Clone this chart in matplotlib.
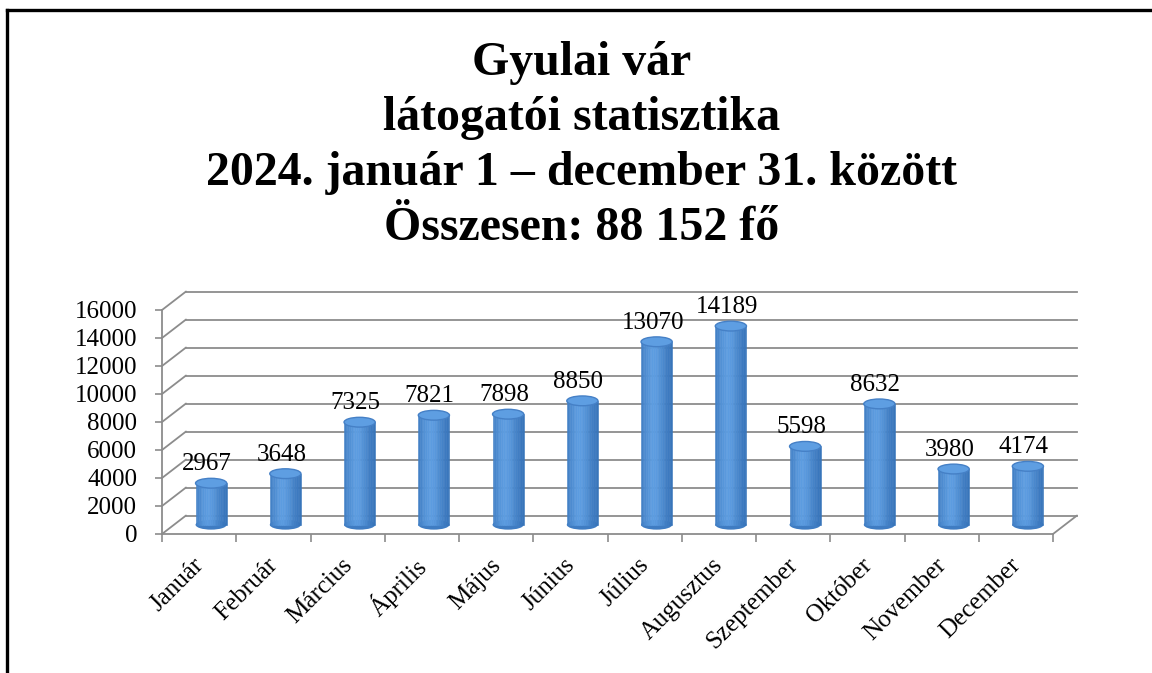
import numpy as np
import matplotlib.pyplot as plt
from matplotlib.patches import Ellipse
from matplotlib.lines import Line2D
from matplotlib.transforms import ScaledTranslation
from matplotlib.colors import to_rgb


months = ["Január", "Február", "Március", "Április", "Május", "Június",
          "Július", "Augusztus", "Szeptember", "Október", "November", "December"]
visitors = [2967, 3648, 7325, 7821, 7898, 8850, 13070, 14189, 5598, 8632, 3980, 4174]
y_ticks = [0, 2000, 4000, 6000, 8000, 10000, 12000, 14000, 16000]
title_lines = ["Gyulai vár", "látogatói statisztika",
               "2024. január 1 – december 31. között", "Összesen: 88 152 fő"]

SERIF = ["Liberation Serif", "DejaVu Serif"]
GRID = "#8c8c8c"
DEPTH = (0.24, 0.185)     # inches, back wall offset
BAR_W = 0.42
N_STRIPS = 18


def shade(t):
    # horizontal shading across the cylinder
    dark = np.array(to_rgb("#3470b6"))
    light = np.array(to_rgb("#5c9ce0"))
    k = np.exp(-((t - 0.4) / 0.38) ** 2)
    return tuple(dark + (light - dark) * k)


def main():
    fig = plt.figure(figsize=(11.52, 6.73), dpi=100)
    ax = fig.add_axes([162 / 1152, 139 / 673, 891 / 1152, 224 / 673])
    ax.set_xlim(-0.5, 11.5)
    ax.set_ylim(0, 16000)
    ax.set_autoscale_on(False)

    back = ax.transData + ScaledTranslation(DEPTH[0], DEPTH[1], fig.dpi_scale_trans)
    mid = ax.transData + ScaledTranslation(DEPTH[0] / 2, DEPTH[1] / 2, fig.dpi_scale_trans)

    # back wall grid + left wall diagonals
    for v in y_ticks:
        ax.plot([-0.5, 11.5], [v, v], color=GRID, lw=1.3, transform=back, clip_on=False, zorder=1)
        ax.annotate("", xy=(-0.5, v), xycoords=back, xytext=(-0.5, v), textcoords="data",
                    arrowprops=dict(arrowstyle="-", color=GRID, lw=1.3, shrinkA=0, shrinkB=0))
    # floor right edge
    ax.annotate("", xy=(11.5, 0), xycoords=back, xytext=(11.5, 0), textcoords="data",
                arrowprops=dict(arrowstyle="-", color=GRID, lw=1.3, shrinkA=0, shrinkB=0))

    # cylinders
    x = np.arange(len(months))
    eh = 700
    for i, v in zip(x, visitors):
        ax.add_patch(Ellipse((i, 0), BAR_W, eh, facecolor="#3f7cc2", edgecolor="none",
                             transform=mid, clip_on=False, zorder=3))
        for k in range(N_STRIPS):
            t = (k + 0.5) / N_STRIPS
            c = shade(t)
            ax.bar(i - BAR_W / 2 + t * BAR_W, v, width=BAR_W / N_STRIPS, color=c,
                   edgecolor=c, linewidth=0.4, transform=mid, clip_on=False, zorder=4)
        ax.add_patch(Ellipse((i, v), BAR_W, eh, facecolor="#5e9ee2", edgecolor="#4580c6",
                             linewidth=1.0, transform=mid, clip_on=False, zorder=5))
        ax.text(i, v, str(v), transform=mid + ScaledTranslation(-0.04, 0.13, fig.dpi_scale_trans),
                ha="center", va="baseline", fontsize=18, family=SERIF, zorder=6)

    # axes styling
    for s in ["top", "right"]:
        ax.spines[s].set_visible(False)
    for s in ["left", "bottom"]:
        ax.spines[s].set_color(GRID)
        ax.spines[s].set_linewidth(1.3)
    ax.set_yticks(y_ticks)
    ax.set_yticklabels([str(t) for t in y_ticks], family=SERIF, fontsize=18)
    ax.tick_params(axis="y", length=5, width=1.2, color=GRID, pad=13)
    ax.set_xticks(x)
    ax.set_xticklabels(months, family=SERIF, fontsize=18, rotation=45,
                       ha="right", va="center", rotation_mode="anchor")
    ax.tick_params(axis="x", which="major", length=0, pad=20)
    ax.set_xticks(np.arange(-0.5, 12, 1), minor=True)
    ax.tick_params(axis="x", which="minor", length=6, width=1.2, color=GRID)
    off = ScaledTranslation(0.01, 0, fig.dpi_scale_trans)
    for lab in ax.get_xticklabels():
        lab.set_transform(lab.get_transform() + off)
    ax.patch.set_visible(False)

    # title
    for n, line in enumerate(title_lines):
        fig.text(582 / 1152, 1 - (75 + 55 * n) / 673, line, ha="center", va="baseline",
                 fontsize=34.5, fontweight="bold", family=SERIF)

    # frame
    fig.add_artist(Line2D([7 / 1152, 1], [1 - 10 / 673] * 2, color="black", lw=2.4,
                          transform=fig.transFigure))
    fig.add_artist(Line2D([7 / 1152] * 2, [0, 1 - 10 / 673], color="black", lw=2.4,
                          transform=fig.transFigure))

    fig.savefig("out.png", dpi=100)


if __name__ == "__main__":
    main()
